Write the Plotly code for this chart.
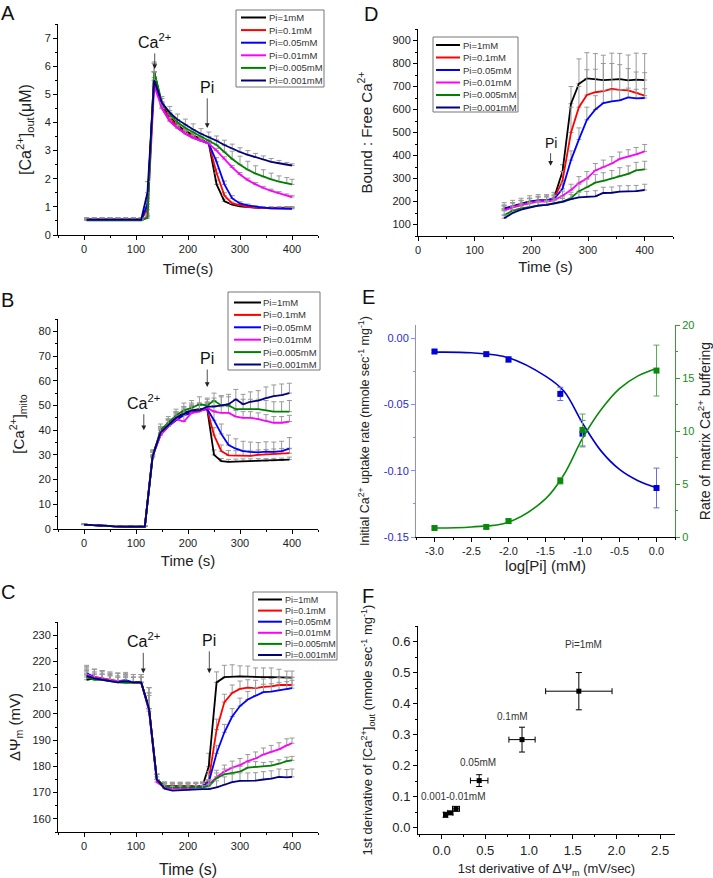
import plotly.graph_objects as go

W, H = 713, 878
FONT = "Liberation Sans, Arial, sans-serif"

pi_labels = ["Pi=1mM", "Pi=0.1mM", "Pi=0.05mM", "Pi=0.01mM", "Pi=0.005mM", "Pi=0.001mM"]
colors = ["#000000", "#ff0000", "#0000ff", "#ff00ff", "#008000", "#000080"]

# ---------------- Panel A: [Ca2+]out ----------------
time_A = [5, 20, 35, 50, 65, 80, 95, 110, 122, 135, 150, 165, 180, 195, 210, 225, 240, 255, 270, 285, 300, 315, 330, 345, 360, 375, 390, 400]
caout_1 = [0.55, 0.55, 0.55, 0.55, 0.55, 0.55, 0.55, 0.55, 1.0, 5.8, 4.6, 4.2, 3.9, 3.7, 3.55, 3.4, 3.25, 1.8, 1.2, 1.08, 1.02, 0.99, 0.97, 0.96, 0.96, 0.96, 0.97, 0.97]
caout_01 = [0.56, 0.56, 0.56, 0.56, 0.56, 0.56, 0.56, 0.56, 0.9, 5.8, 4.55, 4.15, 3.85, 3.65, 3.5, 3.38, 3.25, 2.2, 1.4, 1.12, 1.05, 1.0, 0.97, 0.95, 0.95, 0.95, 0.95, 0.95]
caout_005 = [0.52, 0.52, 0.52, 0.52, 0.52, 0.52, 0.52, 0.52, 1.1, 5.5, 4.5, 4.05, 3.8, 3.6, 3.45, 3.35, 3.25, 2.6, 1.8, 1.3, 1.12, 1.05, 1.0, 0.97, 0.95, 0.94, 0.93, 0.93]
caout_001 = [0.54, 0.54, 0.54, 0.54, 0.54, 0.54, 0.54, 0.54, 0.65, 5.3, 4.5, 4.05, 3.8, 3.6, 3.45, 3.35, 3.25, 3.0, 2.7, 2.4, 2.15, 1.95, 1.8, 1.67, 1.57, 1.48, 1.4, 1.35]
caout_0005 = [0.53, 0.53, 0.53, 0.53, 0.53, 0.53, 0.53, 0.53, 0.6, 5.8, 4.7, 4.3, 4.0, 3.8, 3.65, 3.5, 3.38, 3.2, 2.95, 2.7, 2.5, 2.32, 2.18, 2.07, 1.98, 1.9, 1.84, 1.8]
caout_0001 = [0.55, 0.55, 0.55, 0.55, 0.55, 0.55, 0.55, 0.55, 1.5, 5.5, 4.7, 4.35, 4.1, 3.92, 3.75, 3.6, 3.48, 3.35, 3.2, 3.07, 2.95, 2.85, 2.76, 2.68, 2.6, 2.55, 2.5, 2.47]
err_caout_1 = [0.06, 0.06, 0.06, 0.06, 0.06, 0.06, 0.06, 0.06, 0.2, 0.35, 0.15, 0.12, 0.1, 0.1, 0.1, 0.1, 0.1, 0.15, 0.08, 0.05, 0.04, 0.04, 0.04, 0.04, 0.04, 0.04, 0.04, 0.04]
err_caout_01 = [0.06, 0.06, 0.06, 0.06, 0.06, 0.06, 0.06, 0.06, 0.2, 0.3, 0.15, 0.12, 0.1, 0.1, 0.1, 0.1, 0.1, 0.15, 0.1, 0.05, 0.04, 0.04, 0.04, 0.04, 0.04, 0.04, 0.04, 0.04]
err_caout_005 = [0.06, 0.06, 0.06, 0.06, 0.06, 0.06, 0.06, 0.06, 0.2, 0.3, 0.15, 0.12, 0.1, 0.1, 0.1, 0.1, 0.1, 0.15, 0.12, 0.1, 0.06, 0.05, 0.04, 0.04, 0.04, 0.04, 0.04, 0.04]
err_caout_001 = [0.06, 0.06, 0.06, 0.06, 0.06, 0.06, 0.06, 0.06, 0.1, 0.3, 0.15, 0.12, 0.1, 0.1, 0.1, 0.1, 0.1, 0.08, 0.08, 0.07, 0.07, 0.07, 0.06, 0.06, 0.06, 0.06, 0.06, 0.06]
err_caout_0005 = [0.06, 0.06, 0.06, 0.06, 0.06, 0.06, 0.06, 0.06, 0.1, 0.3, 0.15, 0.12, 0.1, 0.1, 0.1, 0.1, 0.12, 0.18, 0.25, 0.28, 0.3, 0.3, 0.28, 0.25, 0.22, 0.2, 0.2, 0.18]
err_caout_0001 = [0.06, 0.06, 0.06, 0.06, 0.06, 0.06, 0.06, 0.06, 0.4, 0.3, 0.22, 0.22, 0.2, 0.2, 0.2, 0.18, 0.18, 0.17, 0.17, 0.16, 0.15, 0.15, 0.14, 0.13, 0.12, 0.1, 0.08, 0.06]
A_series = [caout_1, caout_01, caout_005, caout_001, caout_0005, caout_0001]
A_errors = [err_caout_1, err_caout_01, err_caout_005, err_caout_001, err_caout_0005, err_caout_0001]

# ---------------- Panel B: [Ca2+]mito ----------------
time_B = [0, 20, 40, 60, 80, 100, 117, 132, 147, 162, 177, 192, 207, 222, 237, 250, 264, 278, 292, 306, 320, 335, 350, 365, 380, 395]
camito_1 = [1.8, 1.5, 1.2, 1.1, 1.0, 1.0, 1.0, 30, 39, 42, 45, 47, 48, 48.5, 48.5, 30.0, 27.5, 27.2, 27.3, 27.4, 27.4, 27.5, 27.5, 27.6, 27.7, 28.1]
camito_01 = [1.8, 1.5, 1.2, 1.1, 1.0, 1.0, 1.0, 30, 38.5, 42, 44.5, 46.5, 47.5, 48, 48.5, 38, 31.5, 29.8, 29.7, 29.7, 29.6, 30, 30.2, 30.4, 30.6, 30.7]
camito_005 = [1.8, 1.5, 1.2, 1.1, 1.0, 1.0, 1.0, 29.5, 38, 41.5, 44, 46, 47, 48, 48.5, 44, 38.5, 34, 32.5, 31.5, 31.2, 31, 31.3, 31.2, 31.5, 32.5]
camito_001 = [1.8, 1.5, 1.2, 1.1, 1.0, 1.0, 1.0, 29.5, 38, 41.5, 44.5, 43.5, 47, 47.5, 49, 47.5, 47, 47, 45.5, 45, 45, 44.5, 43.8, 43, 43, 43.5]
camito_0005 = [1.8, 1.5, 1.2, 1.1, 1.0, 1.0, 1.0, 29, 40, 43, 46, 48, 49, 50.5, 50, 52, 50, 50, 48.5, 48.5, 48.5, 48.5, 48, 47.5, 47.5, 47.5]
camito_0001 = [1.8, 1.5, 1.2, 1.1, 1.0, 1.0, 1.0, 29.5, 39, 42, 45, 46.5, 48, 48, 49.5, 49.5, 50, 50.5, 52.5, 50.5, 51.5, 52, 53, 53.8, 54.2, 55]
err_camito_1 = [0.3, 0.3, 0.3, 0.3, 0.3, 0.3, 0.3, 2, 2.5, 2.5, 2.5, 2.5, 2.5, 2.5, 2.5, 2, 1, 1, 1, 1, 1, 1, 1, 1, 1, 1]
err_camito_01 = [0.3, 0.3, 0.3, 0.3, 0.3, 0.3, 0.3, 2, 2.5, 2.5, 2.5, 2.5, 2.5, 2.5, 2.5, 3, 2.5, 2, 2, 2, 2, 2, 2, 2, 2, 2]
err_camito_005 = [0.3, 0.3, 0.3, 0.3, 0.3, 0.3, 0.3, 2, 2.5, 2.5, 2.5, 2.5, 2.5, 2.5, 2.5, 4, 4, 4, 4, 4, 4, 4, 4, 4, 4, 4.5]
err_camito_001 = [0.3, 0.3, 0.3, 0.3, 0.3, 0.3, 0.3, 2, 2.5, 2.5, 2.5, 2.5, 2.5, 2.5, 2.5, 2.5, 2.5, 2.5, 2.5, 2.5, 2.5, 2.5, 2.5, 2.5, 2.5, 2.5]
err_camito_0005 = [0.3, 0.3, 0.3, 0.3, 0.3, 0.3, 0.3, 2, 2.5, 2.5, 2.5, 3, 3, 3, 3, 3, 3.5, 3.5, 4, 4, 4, 4, 4, 4, 4, 4.5]
err_camito_0001 = [0.3, 0.3, 0.3, 0.3, 0.3, 0.3, 0.3, 2, 2.5, 2.5, 2.5, 3, 3, 3, 3, 3.5, 4, 4, 4, 4, 4, 4, 4.5, 4.5, 4.5, 4]
B_series = [camito_1, camito_01, camito_005, camito_001, camito_0005, camito_0001]
B_errors = [err_camito_1, err_camito_01, err_camito_005, err_camito_001, err_camito_0005, err_camito_0001]

# ---------------- Panel C: membrane potential ----------------
time_C = [5, 20, 35, 50, 65, 80, 95, 110, 125, 140, 155, 170, 185, 200, 215, 228, 240, 255, 270, 285, 300, 315, 330, 345, 360, 375, 390, 400]
psi_1 = [213, 213.5, 213.2, 212.5, 212.5, 212, 212, 212, 202, 175, 172.5, 172.5, 172.5, 172.5, 172.5, 172.5, 180, 212, 214, 214.2, 214.3, 214.2, 214, 214, 214, 214, 213.8, 213.8]
psi_01 = [215, 214, 213.5, 213, 212.5, 212.3, 212, 212, 202, 175, 172.5, 172.3, 172.3, 172.3, 172.3, 172.5, 175, 194, 204.5, 208, 209.5, 210, 209.8, 210.3, 210.5, 211, 211, 211]
psi_005 = [215.5, 214, 213.5, 212.5, 212.5, 212.8, 212, 212, 202, 175, 172, 172, 172, 172, 172, 172.5, 174, 185, 193, 199, 203, 205.5, 207, 208.3, 208.5, 209, 209.3, 209.8]
psi_001 = [215, 214, 213.5, 213, 212.5, 212.3, 212, 212, 201, 174, 172, 171.5, 171.5, 171.5, 172, 172, 173, 176, 178, 179.5, 180.5, 182, 183, 184.5, 185.5, 186.5, 188, 188.8]
psi_0005 = [214, 213, 213, 212.5, 212, 211.8, 212, 212, 202, 175, 172.5, 172, 172, 172, 172, 172, 172.5, 175.5, 177, 177.5, 178, 179.5, 179.8, 180, 180.3, 181, 182, 182.3]
psi_0001 = [214.5, 213.5, 213, 212.5, 212, 212.5, 212, 212, 202, 175, 171.5, 170.8, 171, 171, 171.3, 171.3, 171.3, 172, 173, 174, 174.5, 174.5, 174.6, 175, 175.3, 176, 175.8, 176]
err_psi_1 = [4.5, 3.5, 3, 3, 3, 3, 3, 3, 8, 2, 1.5, 1.5, 1.5, 1.5, 1.5, 1.5, 5, 4, 4.5, 4.5, 4, 4, 3.5, 3.5, 3.5, 3, 2.5, 2.5]
err_psi_01 = [3, 3, 3, 3, 3, 3, 3, 3, 8, 2, 1.5, 1.5, 1.5, 1.5, 1.5, 1.5, 3, 4, 3, 3, 3, 3, 3, 3, 3, 3, 3, 3]
err_psi_005 = [3, 3, 3, 3, 3, 3, 3, 3, 8, 2, 1.5, 1.5, 1.5, 1.5, 1.5, 1.5, 3, 3, 3, 3, 3, 3, 3, 3, 3, 3, 3, 3]
err_psi_001 = [2, 2, 2, 2, 2, 2, 2, 2, 6, 2, 1.5, 1.5, 1.5, 1.5, 1.5, 1.5, 2, 2.5, 2.5, 2.5, 2.5, 2.5, 2.5, 2.5, 2.5, 2.5, 2.5, 2]
err_psi_0005 = [2, 2, 2, 2, 2, 2, 2, 2, 6, 2, 1.5, 1.5, 1.5, 1.5, 1.5, 1.5, 2, 2, 2, 2, 2, 2, 2, 1.5, 1.5, 1.5, 1.5, 1.5]
err_psi_0001 = [2, 2, 2, 2, 2, 2, 2, 2, 6, 2, 1.5, 1.5, 1.5, 1.5, 1.5, 1.5, 2, 2.5, 3, 3, 3, 3, 3, 3, 3, 3, 3, 3]
C_series = [psi_1, psi_01, psi_005, psi_001, psi_0005, psi_0001]
C_errors = [err_psi_1, err_psi_01, err_psi_005, err_psi_001, err_psi_0005, err_psi_0001]

# ---------------- Panel D: Bound : Free Ca ----------------
time_D = [152, 167, 182, 197, 212, 227, 240, 255, 270, 284, 298, 313, 327, 342, 356, 371, 385, 400]
bf_1 = [170, 180, 192, 200, 205, 205, 215, 330, 625, 712, 735, 733, 728, 730, 732, 727, 730, 728]
bf_01 = [165, 175, 185, 195, 203, 205, 212, 290, 500, 610, 663, 675, 680, 690, 685, 683, 673, 660]
bf_005 = [168, 178, 188, 198, 205, 205, 210, 255, 380, 470, 555, 600, 628, 635, 640, 653, 648, 650]
bf_001 = [160, 175, 185, 192, 200, 200, 205, 225, 250, 280, 300, 335, 350, 365, 385, 395, 405, 418]
bf_0005 = [140, 160, 170, 177, 182, 185, 192, 200, 215, 245, 262, 282, 290, 300, 312, 320, 335, 340]
bf_0001 = [127, 150, 165, 175, 182, 185, 190, 198, 210, 218, 220, 222, 237, 238, 243, 244, 245, 250]
err_bf_1 = [25, 25, 22, 25, 25, 25, 25, 30, 75, 108, 112, 110, 108, 115, 112, 110, 115, 115]
err_bf_01 = [20, 20, 20, 20, 20, 20, 20, 40, 110, 90, 110, 100, 120, 110, 110, 95, 90, 100]
err_bf_005 = [15, 15, 15, 15, 15, 15, 15, 25, 40, 50, 55, 60, 55, 50, 45, 40, 40, 40]
err_bf_001 = [20, 20, 20, 20, 20, 20, 20, 20, 25, 28, 30, 30, 30, 30, 30, 30, 30, 30]
err_bf_0005 = [20, 20, 20, 20, 20, 20, 20, 20, 25, 30, 35, 35, 35, 35, 35, 35, 35, 35]
err_bf_0001 = [15, 15, 15, 15, 15, 15, 15, 15, 20, 22, 24, 25, 25, 25, 25, 25, 25, 25]
D_series = [bf_1, bf_01, bf_005, bf_001, bf_0005, bf_0001]
D_errors = [err_bf_1, err_bf_01, err_bf_005, err_bf_001, err_bf_0005, err_bf_0001]

# ---------------- Panel E: dose response ----------------
log_pi = [-3.0, -2.3, -2.0, -1.3, -1.0, 0.0]
uptake_rate = [-0.010, -0.012, -0.016, -0.042, -0.072, -0.113]
uptake_err = [0.001, 0.001, 0.002, 0.005, 0.010, 0.015]
buffer_rate = [0.85, 0.95, 1.5, 5.3, 10.1, 15.7]
buffer_err = [0.1, 0.15, 0.2, 0.3, 1.5, 2.4]
fit_log_pi = [-3.0, -2.5, -2.0, -1.5, -1.25, -1.0, -0.75, -0.5, -0.25, 0.0]
fit_uptake = [-0.0105, -0.011, -0.0147, -0.0286, -0.040, -0.064, -0.085, -0.099, -0.1075, -0.1128]
fit_buffer = [0.85, 0.95, 1.4, 3.6, 5.9, 9.3, 12.0, 14.0, 15.2, 15.9]
E_x_ticks = [-3.0, -2.5, -2.0, -1.5, -1.0, -0.5, 0.0]
E_x_ticktext = ["-3.0", "-2.5", "-2.0", "-1.5", "-1.0", "-0.5", "0.0"]
E_y_ticks = [0.00, -0.05, -0.10, -0.15]
E_y_ticktext = ["0.00", "-0.05", "-0.10", "-0.15"]

# ---------------- Panel F: derivatives ----------------
dpsi = [0.045, 0.10, 0.165, 0.43, 0.92, 1.57]
dpsi_err = [0.02, 0.03, 0.04, 0.10, 0.15, 0.38]
dcaout = [0.042, 0.048, 0.061, 0.152, 0.284, 0.44]
dcaout_err = [0.008, 0.005, 0.008, 0.019, 0.04, 0.06]
F_labels = ["0.001-0.01mM", "0.05mM", "0.1mM", "Pi=1mM"]
F_label_x = [0.13, 0.42, 0.81, 1.62]
F_label_y = [0.102, 0.209, 0.36, 0.589]


def fx(p):
    return p / W


def fy(p):
    return 1 - p / H


fig = go.Figure()

base_axis = dict(showline=True, linecolor="black", linewidth=1, ticks="outside", ticklen=4,
                 tickwidth=1, tickcolor="black", showgrid=False, zeroline=False, mirror=False,
                 tickfont=dict(size=11, color="#222", family=FONT), automargin=False)


def ax(**kw):
    d = dict(base_axis)
    d.update(kw)
    return d


def add_time_panel(times, series, errors, xa, ya):
    for name, col, vals, err in zip(pi_labels, colors, series, errors):
        fig.add_trace(go.Scatter(
            x=times, y=vals, mode="lines", name=name, showlegend=False,
            line=dict(color=col, width=1.8),
            error_y=dict(type="data", array=err, arrayminus=[0] * len(err), symmetric=False,
                         color="#999999", thickness=1, width=2.5),
            xaxis=xa, yaxis=ya))


add_time_panel(time_A, A_series, A_errors, "x", "y")
add_time_panel(time_B, B_series, B_errors, "x2", "y2")
add_time_panel(time_C, C_series, C_errors, "x3", "y3")
add_time_panel(time_D, D_series, D_errors, "x4", "y4")

# Panel E
fig.add_trace(go.Scatter(x=fit_log_pi, y=fit_uptake, mode="lines", line=dict(color="#0000cc", width=1.6, shape="spline"),
                         showlegend=False, xaxis="x5", yaxis="y5"))
fig.add_trace(go.Scatter(x=log_pi, y=uptake_rate, mode="markers", marker=dict(symbol="square", size=6, color="#0000dd"),
                         error_y=dict(type="data", array=uptake_err, color="#6a6ae0", thickness=1, width=3),
                         showlegend=False, xaxis="x5", yaxis="y5"))
fig.add_trace(go.Scatter(x=fit_log_pi, y=fit_buffer, mode="lines", line=dict(color="#0a8a0a", width=1.6, shape="spline"),
                         showlegend=False, xaxis="x5", yaxis="y7"))
fig.add_trace(go.Scatter(x=log_pi, y=buffer_rate, mode="markers", marker=dict(symbol="square", size=6, color="#0a8a0a"),
                         error_y=dict(type="data", array=buffer_err, color="#5aaa5a", thickness=1, width=3),
                         showlegend=False, xaxis="x5", yaxis="y7"))

# Panel F
fig.add_trace(go.Scatter(x=dpsi, y=dcaout, mode="markers", marker=dict(symbol="square", size=5, color="black"),
                         error_x=dict(type="data", array=dpsi_err, color="black", thickness=1, width=3),
                         error_y=dict(type="data", array=dcaout_err, color="black", thickness=1, width=3),
                         showlegend=False, xaxis="x6", yaxis="y6"))

time_x = dict(range=[-50, 450], tickvals=[0, 100, 200, 300, 400], minor=dict(ticks="outside", ticklen=2, dtick=50, tick0=0, tickcolor="black"))
title_font = dict(size=15, color="#222", family=FONT)

fig.update_layout(
    width=W, height=H, margin=dict(l=0, r=0, t=0, b=0), autosize=False,
    paper_bgcolor="white", plot_bgcolor="white",
    font=dict(family=FONT, color="#222"),
    xaxis=ax(domain=[fx(58), fx(318)], anchor="y", **time_x,
             title=dict(text="Time(s)", font=title_font, standoff=9)),
    yaxis=ax(domain=[fy(235), fy(24)], anchor="x", range=[0, 7.5], dtick=1,
             minor=dict(ticks="outside", ticklen=2, dtick=0.5, tickcolor="black"),
             title=dict(text="[Ca<sup>2+</sup>]<sub>out</sub>(μM)", font=dict(size=16, color="#222", family=FONT), standoff=9)),
    xaxis2=ax(domain=[fx(58), fx(318)], anchor="y2", **time_x,
              title=dict(text="Time (s)", font=title_font, standoff=7)),
    yaxis2=ax(domain=[fy(529), fy(319)], anchor="x2", range=[0, 85], dtick=10,
              minor=dict(ticks="outside", ticklen=2, dtick=5, tickcolor="black"),
              title=dict(text="[Ca<sup>2+</sup>]<sub>mito</sub>", font=title_font, standoff=10)),
    xaxis3=ax(domain=[fx(58), fx(318)], anchor="y3", **time_x,
              title=dict(text="Time (s)", font=dict(size=16, color="#222", family=FONT), standoff=13)),
    yaxis3=ax(domain=[fy(832), fy(622)], anchor="x3", range=[155, 235], tickvals=[160, 170, 180, 190, 200, 210, 220, 230],
              minor=dict(ticks="outside", ticklen=2, dtick=5, tick0=155, tickcolor="black"),
              title=dict(text="ΔΨ<sub>m</sub> (mV)", font=title_font, standoff=8)),
    xaxis4=ax(domain=[fx(418), fx(673)], anchor="y4", range=[0, 450], tickvals=[0, 100, 200, 300, 400],
              minor=dict(ticks="outside", ticklen=2, dtick=50, tick0=0, tickcolor="black"),
              title=dict(text="Time (s)", font=title_font, standoff=6)),
    yaxis4=ax(domain=[fy(236), fy(29)], anchor="x4", range=[50, 950], tickvals=[100, 200, 300, 400, 500, 600, 700, 800, 900],
              minor=dict(ticks="outside", ticklen=2, dtick=50, tick0=0, tickcolor="black"),
              title=dict(text="Bound : Free Ca<sup>2+</sup>", font=title_font, standoff=16)),
    xaxis5=ax(domain=[fx(416), fx(675)], anchor="y5", range=[-3.25, 0.25], tickvals=E_x_ticks, ticktext=E_x_ticktext,
              minor=dict(ticks="outside", ticklen=2, dtick=0.25, tick0=0, tickcolor="black"),
              title=dict(text="log[Pi] (mM)", font=title_font, standoff=1)),
    yaxis5=ax(domain=[fy(537), fy(325)], anchor="x5", range=[-0.15, 0.01], tickvals=E_y_ticks, ticktext=E_y_ticktext,
              linecolor="#8a8aff", tickcolor="#8a8aff", tickfont=dict(size=11, color="#2a2acc", family=FONT),
              minor=dict(ticks="outside", ticklen=2, dtick=0.025, tick0=0, tickcolor="#8a8aff"),
              title=dict(text="Initial Ca<sup>2+</sup> uptake rate (nmole sec<sup>-1</sup> mg<sup>-1</sup>)",
                         font=dict(size=12.5, color="#222", family=FONT), standoff=11)),
    yaxis7=ax(domain=[fy(537), fy(325)], anchor="x5", overlaying="y5", side="right", range=[0, 20], dtick=5,
              linecolor="#3a9a3a", tickcolor="#3a9a3a", tickfont=dict(size=11, color="#1a8a1a", family=FONT),
              minor=dict(ticks="outside", ticklen=2, dtick=2.5, tick0=0, tickcolor="#3a9a3a"),
              title=dict(text="Rate of matrix Ca<sup>2+</sup> buffering", font=dict(size=14, color="#222", family=FONT), standoff=8)),
    xaxis6=ax(domain=[fx(418), fx(675)], anchor="y6", range=[-0.27, 2.67], tickvals=[0, 0.5, 1.0, 1.5, 2.0, 2.5],
              ticktext=["0.0", "0.5", "1.0", "1.5", "2.0", "2.5"], tickfont=dict(size=13, color="#222", family=FONT),
              minor=dict(ticks="outside", ticklen=2, dtick=0.25, tick0=0, tickcolor="black"),
              title=dict(text="1st derivative of ΔΨ<sub>m</sub> (mV/sec)", font=dict(size=13, color="#222", family=FONT), standoff=9)),
    yaxis6=ax(domain=[fy(834), fy(626)], anchor="x6", range=[-0.02, 0.65], tickvals=[0, 0.1, 0.2, 0.3, 0.4, 0.5, 0.6],
              ticktext=["0.0", "0.1", "0.2", "0.3", "0.4", "0.5", "0.6"], tickfont=dict(size=13, color="#222", family=FONT),
              minor=dict(ticks="outside", ticklen=2, dtick=0.05, tick0=0, tickcolor="black"),
              title=dict(text="1st derivative of [Ca<sup>2+</sup>]<sub>out</sub> (nmole sec<sup>-1</sup> mg<sup>-1</sup>)",
                         font=dict(size=13, color="#222", family=FONT), standoff=16)),
)

annotations = []
shapes = []

# panel letters
for letter, cx, cy in [("A", 8, 13), ("B", 7, 300), ("C", 8, 592), ("D", 371, 14), ("E", 368, 297), ("F", 368, 596)]:
    annotations.append(dict(text=letter, x=fx(cx), y=fy(cy), xref="paper", yref="paper", showarrow=False,
                            xanchor="center", yanchor="middle", font=dict(size=20, color="#111", family=FONT)))


def arrow_label(xa, ya, txt, x, ytext, ytip, size=16):
    annotations.append(dict(text=txt, x=x, y=ytip, ax=x, ay=ytext, xref=xa, yref=ya, axref=xa, ayref=ya,
                            showarrow=True, arrowhead=2, arrowsize=1.2, arrowwidth=0.8, arrowcolor="#222",
                            standoff=0, borderpad=2, font=dict(size=size, color="#111", family=FONT)))


# A
arrow_label("x", "y", "Ca<sup>2+</sup>", 136, 6.9, 5.9)
arrow_label("x", "y", "Pi", 237, 5.25, 3.8)
# B
arrow_label("x2", "y2", "Ca<sup>2+</sup>", 115, 51.5, 40)
arrow_label("x2", "y2", "Pi", 237, 69, 57.5)
# C
arrow_label("x3", "y3", "Ca<sup>2+</sup>", 114, 228, 215.5)
arrow_label("x3", "y3", "Pi", 241, 228, 215.5)
# D
arrow_label("x4", "y4", "Pi", 234, 456, 355, size=14)

# F labels
for t, lx, ly in zip(F_labels, F_label_x, F_label_y):
    annotations.append(dict(text=t, x=lx, y=ly, xref="x6", yref="y6", showarrow=False,
                            font=dict(size=10, color="#333", family=FONT)))


def draw_legend(x0, y0, x1, y1, lx0, lx1, tx, ry0, rdy, fsize):
    shapes.append(dict(type="rect", xref="paper", yref="paper", x0=fx(x0), x1=fx(x1), y0=fy(y1), y1=fy(y0),
                       line=dict(color="#777", width=1), fillcolor="white", layer="above"))
    for i, (name, col) in enumerate(zip(pi_labels, colors)):
        yy = ry0 + i * rdy
        shapes.append(dict(type="line", xref="paper", yref="paper", x0=fx(lx0), x1=fx(lx1), y0=fy(yy), y1=fy(yy),
                           line=dict(color=col, width=2), layer="above"))
        annotations.append(dict(text=name, x=fx(tx), y=fy(yy), xref="paper", yref="paper", showarrow=False,
                                xanchor="left", yanchor="middle", font=dict(size=fsize, color="#333", family=FONT)))


draw_legend(236, 10, 324, 87, 241, 266, 267, 17.5, 12.6, 9.5)
draw_legend(228, 292, 320, 370, 234, 261, 261, 302.5, 12.4, 9.5)
draw_legend(253, 592, 337, 660, 258, 282, 283, 599.5, 11.1, 9)
draw_legend(433, 37, 518, 112, 436, 460, 461, 45, 12.5, 9.5)

fig.update_layout(annotations=annotations, shapes=shapes)

fig.write_html("out.html", config={"displayModeBar": False},
               post_script="document.body.style.margin='0px';")
